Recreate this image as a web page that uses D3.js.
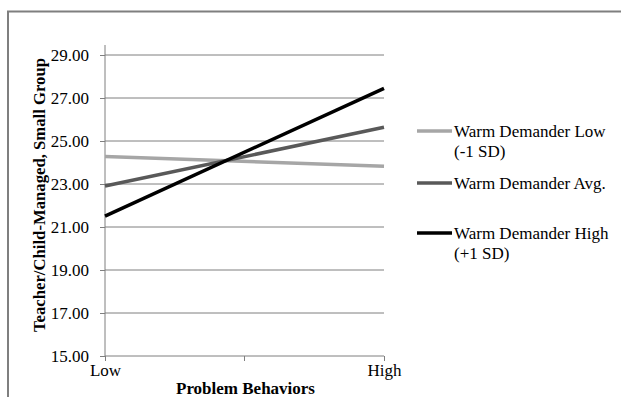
<!DOCTYPE html>
<html><head><meta charset="utf-8">
<script src="https://cdn.jsdelivr.net/npm/d3@7"></script>
<style>
body{margin:0;background:#fff;}
text{font-family:"Liberation Serif","Times New Roman",serif;fill:#000;}
</style></head>
<body><svg id="c" width="621" height="397"></svg>
<script>
const categories = ["Low", "High"];
const seriesNames = ["Warm Demander Low|(-1 SD)", "Warm Demander Avg.", "Warm Demander High|(+1 SD)"];
const lowValues = [24.28, 23.82];
const avgValues = [22.91, 25.64];
const highValues = [21.51, 27.45];
const yTicks = [15, 17, 19, 21, 23, 25, 27, 29];
const colors = ["#a6a6a6", "#595959", "#000000"];
const series = [lowValues, avgValues, highValues];

const svg = d3.select("#c");
svg.append("path").attr("d","M8,397 V11.5 H621").attr("fill","none").attr("stroke","#7f7f7f").attr("stroke-width",2);

const x0 = 105, x1 = 384, yTop = 55, yBot = 356;
const x = d3.scalePoint().domain(categories).range([x0, x1]);
const y = d3.scaleLinear().domain([15, 29]).range([yBot, yTop]);

svg.append("g").selectAll("line").data(yTicks.slice(1)).join("line")
  .attr("x1", x0).attr("x2", x1).attr("y1", d=>y(d)).attr("y2", d=>y(d))
  .attr("stroke","#7f7f7f").attr("stroke-width",1);

const ya = svg.append("g").attr("transform",`translate(${x0},0)`)
  .call(d3.axisLeft(y).tickValues(yTicks).tickSize(5).tickPadding(11).tickFormat(d3.format(".2f")));
ya.select(".domain").attr("stroke","#7f7f7f").attr("d",`M0,${yTop-10}V${yBot}`);
ya.selectAll(".tick line").attr("stroke","#7f7f7f");
ya.selectAll("text").attr("font-size",17).attr("font-family","Liberation Serif").attr("dy","0.32em");

const xa = svg.append("g").attr("transform",`translate(0,${yBot})`)
  .call(d3.axisBottom(x).tickSize(5).tickPadding(3));
xa.select(".domain").attr("stroke","#7f7f7f").attr("d",`M${x0},0H${x1}`);
xa.selectAll(".tick line").attr("stroke","#7f7f7f");
xa.selectAll("text").attr("font-size",17).attr("font-family","Liberation Serif");
xa.append("line").attr("x1",(x0+x1)/2).attr("x2",(x0+x1)/2).attr("y1",0).attr("y2",5).attr("stroke","#7f7f7f");

const line = d3.line().x((d,i)=>x(categories[i])).y(d=>y(d));
series.forEach((s,i)=>{
  svg.append("path").datum(s).attr("d",line).attr("fill","none")
    .attr("stroke",colors[i]).attr("stroke-width",3.5);
});

svg.append("text").attr("x",(x0+x1)/2+1).attr("y",394).attr("text-anchor","middle")
  .attr("font-weight","bold").attr("font-size",17).text("Problem Behaviors");
svg.append("text").attr("transform","translate(45,195) rotate(-90)").attr("text-anchor","middle")
  .attr("font-weight","bold").attr("font-size",16.7).text("Teacher/Child-Managed, Small Group");

const legY = [131, 183, 233];
seriesNames.forEach((n,i)=>{
  const g = svg.append("g").attr("transform",`translate(417,${legY[i]})`);
  g.append("line").attr("x1",0).attr("x2",35).attr("stroke",colors[i]).attr("stroke-width",3.5);
  n.split("|").forEach((t,j)=>{
    g.append("text").attr("x",37).attr("y",j*20).attr("dy","0.35em").attr("font-size",17).text(t);
  });
});
</script></body></html>
